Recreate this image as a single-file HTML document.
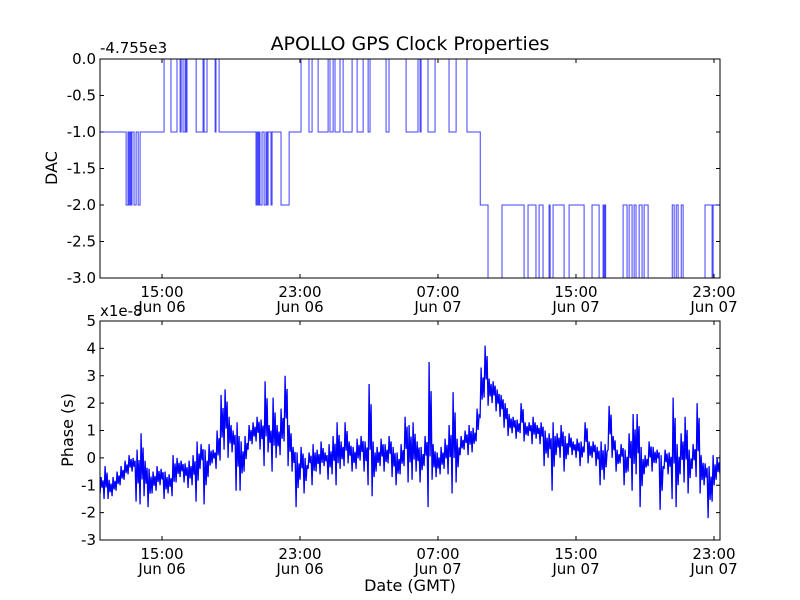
<!DOCTYPE html>
<html><head><meta charset="utf-8">
<style>
html,body{margin:0;padding:0;background:#fff;}
svg{display:block;font-family:"DejaVu Sans","Liberation Sans",sans-serif;}
</style></head>
<body>
<svg id="chart" width="800" height="600" viewBox="0 0 800 600" xmlns="http://www.w3.org/2000/svg">
<rect width="800" height="600" fill="#fff"/>
<text x="410" y="50" font-size="19" text-anchor="middle">APOLLO GPS Clock Properties</text>
<g id="top"></g>
<g id="bot"></g>
</svg>
<script>
// ---- data ----
const xTickHours = [15, 23, 31, 39, 47];
const xTickTimes = ["15:00", "23:00", "07:00", "15:00", "23:00"];
const xTickDates = ["Jun 06", "Jun 06", "Jun 07", "Jun 07", "Jun 07"];
const dacTicks = [0.0, -0.5, -1.0, -1.5, -2.0, -2.5, -3.0];
const dacTickLabels = ["0.0", "-0.5", "-1.0", "-1.5", "-2.0", "-2.5", "-3.0"];
const phaseTicks = [5, 4, 3, 2, 1, 0, -1, -2, -3];
const phaseTickLabels = ["5", "4", "3", "2", "1", "0", "-1", "-2", "-3"];
// DAC step data (hours since Jun 06 00:00, value offset from -4755e3)
const dacTimes = [11.41,12.92,13.03,13.09,13.15,13.21,13.26,13.38,13.50,13.62,13.73,
15.12,15.52,15.87,16.05,16.11,16.22,16.34,16.40,16.45,16.98,17.38,17.44,17.61,18.08,18.13,18.31,
20.45,20.51,20.57,20.63,20.68,20.80,20.92,21.03,21.09,21.15,21.32,21.38,21.90,22.37,
23.06,23.52,23.70,24.05,24.63,24.74,24.92,25.03,25.32,25.50,26.02,26.31,26.66,26.95,27.06,27.99,28.16,29.15,
29.84,29.96,30.02,30.42,30.83,31.64,32.05,32.68,33.45,33.90,34.71,35.99,36.22,36.68,36.86,37.09,37.44,37.50,37.67,38.31,38.60,39.47,39.93,40.34,40.57,40.62,40.68,40.72,
41.73,41.96,42.08,42.25,42.37,42.48,42.66,42.83,42.95,43.18,44.58,44.69,44.81,44.92,45.10,45.21,46.48,46.89,46.95,47.35];
const dacValues = [-1,-2,-1,-2,-1,-2,-1,-2,-1,-2,-1,
0,-1,0,-1,0,-1,0,-1,0,-1,0,-1,0,-1,0,-1,
-2,-1,-2,-1,-2,-1,-2,-1,-2,-1,-2,-1,-2,-1,
0,-1,0,-1,0,-1,0,-1,0,-1,0,-1,0,-1,0,-1,0,-1,
0,-1,0,-1,0,-1,0,-1,-2,-3,-2,-3,-2,-3,-2,-3,-2,-3,-2,-3,-2,-3,-2,-3,-2,-3,-2,-3,
-2,-3,-2,-3,-2,-3,-2,-3,-2,-3,-2,-3,-2,-3,-2,-3,-2,-3,-2,-2];
// Phase envelope (x1e-8 s), per bin starting at phaseStart, bin width phaseStep hours
const phaseStart = 11.41;
const phaseStep = 0.2319;
const phaseLo = [-1.3,-1.5,-1.5,-1.4,-1.2,-1.0,-0.8,-0.6,-0.5,-1.6,-1.7,-1.4,-1.8,-1.3,-1.2,-1.0,-1.5,-1.3,-1.4,-0.9,
-0.7,-0.9,-1.1,-1.0,-1.6,-0.4,-1.7,-0.7,-0.2,-0.4,-0.1,0.3,0.0,0.2,-1.2,-1.2,-0.5,0.3,0.5,0.6,
0.3,-0.3,0.2,-0.5,0.0,0.1,0.6,-0.3,-0.5,-1.8,-0.8,-1.3,-0.4,-1.0,-0.5,-0.6,-0.3,-0.8,-0.6,-1.0,
-0.4,-0.3,-0.2,-0.5,-0.4,-0.1,-0.5,-1.0,-1.4,-0.5,-0.3,-0.5,-0.2,-0.7,-1.0,-0.6,-0.3,-0.9,-0.8,-0.5,
-0.9,-0.3,-1.8,-0.8,-0.7,-0.6,-0.4,-0.6,-1.3,-0.9,0.1,0.3,0.1,0.2,0.6,1.5,2.2,1.9,2.0,1.7,
1.5,1.1,0.8,0.9,0.7,0.9,0.6,0.8,0.5,0.7,0.5,-0.3,0.0,-1.2,0.1,0.0,-0.5,0.1,0.1,0.0,
-0.3,0.2,-0.2,0.0,-0.3,-1.0,-0.8,0.3,0.0,-0.5,-0.2,-1.0,-0.5,-1.2,-0.6,-1.8,-0.6,-0.3,-0.5,-0.2,
-1.9,-0.4,-0.6,-1.5,-1.8,-0.6,-0.9,-1.3,-0.4,-0.7,-1.3,-1.0,-2.2,-1.6,-0.8,-0.6];
const phaseHi = [-0.7,-0.3,-0.8,-0.7,-0.5,-0.3,-0.1,0.1,0.0,0.3,0.9,-0.1,-0.4,-0.5,-0.3,-0.4,-0.5,-0.6,0.1,0.0,
-0.1,-0.2,-0.1,0.1,0.6,0.5,0.3,0.5,0.3,1.0,2.3,2.5,1.5,1.0,1.3,0.6,0.8,1.2,1.3,1.5,
1.4,2.8,1.2,2.2,1.2,1.8,3.0,1.2,0.4,0.2,0.4,0.0,0.2,0.5,0.3,0.6,0.2,0.5,0.8,1.3,
0.6,1.3,0.6,0.4,0.7,0.8,0.6,2.7,0.6,0.4,0.7,0.5,0.8,0.4,0.2,0.5,1.5,1.2,1.3,0.6,
0.4,0.8,3.5,0.5,0.2,0.4,0.7,1.2,2.4,0.7,0.8,1.0,1.2,1.1,1.8,3.3,4.1,2.9,2.8,2.5,
2.3,2.0,1.6,1.5,1.4,2.0,1.3,1.3,1.5,1.2,1.3,1.0,0.9,1.3,0.9,1.2,0.8,0.9,0.6,0.7,
0.6,1.3,0.6,0.6,0.4,0.6,0.5,1.9,0.8,0.3,0.5,0.3,0.9,1.6,1.6,0.4,0.1,0.6,0.4,0.3,
0.1,0.3,0.2,2.2,0.5,0.9,1.5,0.3,0.5,2.0,0.1,-0.2,-0.3,0.1,0.0,0.1];

// ---- layout ----
const NS = "http://www.w3.org/2000/svg";
const X0 = 100, X1 = 720, H0 = 11.406, H1 = 47.348;
const xs = h => X0 + (h - H0) / (H1 - H0) * (X1 - X0);
function mk(tag, attrs, parent, text) {
  const e = document.createElementNS(NS, tag);
  for (const k in attrs) e.setAttribute(k, attrs[k]);
  if (text !== undefined) e.textContent = text;
  parent.appendChild(e);
  return e;
}
function axes(g, top, bottom, vmax, vmin, ticks, labels) {
  const ys = v => top + (vmax - v) / (vmax - vmin) * (bottom - top);
  ticks.forEach((t, i) => {
    const y = ys(t);
    const tl = mk("path", {d: `M${X0},${y}h4M${X1},${y}h-4`, stroke: "#000", "stroke-width": 1}, g);
    
    
    const lb = mk("text", {x: X0 - 4, y: y + 5, "font-size": 15, "text-anchor": "end"}, g, labels[i]);
    
    
  });
  xTickHours.forEach((h, i) => {
    const x = xs(h);
    const tk = mk("path", {d: `M${x},${bottom}v-4M${x},${top}v4`, stroke: "#000", "stroke-width": 1}, g);
    
    
    const l1 = mk("text", {x: x, y: bottom + 19, "font-size": 15, "text-anchor": "middle"}, g, xTickTimes[i]);
    
    
    const l2 = mk("text", {x: x, y: bottom + 34, "font-size": 15, "text-anchor": "middle"}, g, xTickDates[i]);
    
    
  });
  return ys;
}
// top panel
const gt = document.getElementById("top");
const T0 = 59, T1 = 278;
const ysT = axes(gt, T0, T1, 0, -3, dacTicks, dacTickLabels);
let d = "";
dacTimes.forEach((t, i) => {
  const x = Math.max(X0, Math.min(X1, xs(t)));
  const y = ysT(dacValues[i]);
  if (i === 0) d += `M${x},${y}`;
  else d += `H${x}V${y}`;
});
const clipT = mk("clipPath", {id: "ct"}, gt);
mk("rect", {x: X0, y: T0 - 1, width: X1 - X0, height: T1 - T0 + 2}, clipT);
const dac = mk("path", {d: d, fill: "none", stroke: "#0000ff", "stroke-width": 1, "stroke-opacity": 0.75, "clip-path": "url(#ct)"}, gt);


const fr1 = mk("rect", {x: X0, y: T0, width: X1 - X0, height: T1 - T0, fill: "none", stroke: "#000", "stroke-width": 1}, gt);


const off = mk("text", {x: 100, y: 53, "font-size": 15}, gt, "-4.755e3");


const yl1 = mk("text", {x: 0, y: 0, "font-size": 16, "text-anchor": "middle", transform: "translate(57,168) rotate(-90)"}, gt, "DAC");



// bottom panel
const gb = document.getElementById("bot");
const B0 = 321, B1 = 540;
const ysB = axes(gb, B0, B1, 5, -3, phaseTicks, phaseTickLabels);
let pd = "";
phaseLo.forEach((lo, i) => {
  const hi = phaseHi[i];
  const t = phaseStart + i * phaseStep;
  const w = xs(t + phaseStep) - xs(t);
  const xa = xs(t);
  const pts = [[0, lo], [0.25, hi], [0.5, lo + 0.35 * (hi - lo)], [0.75, lo + 0.8 * (hi - lo)]];
  pts.forEach((p, j) => {
    const x = Math.min(X1, xa + p[0] * w);
    pd += ((i === 0 && j === 0) ? "M" : "L") + x.toFixed(2) + "," + ysB(p[1]).toFixed(2);
  });
});
const clipB = mk("clipPath", {id: "cb"}, gb);
mk("rect", {x: X0, y: B0, width: X1 - X0, height: B1 - B0}, clipB);
const ph = mk("path", {d: pd, fill: "none", stroke: "#0000ff", "stroke-width": 1.3, "clip-path": "url(#cb)"}, gb);


const fr2 = mk("rect", {x: X0, y: B0, width: X1 - X0, height: B1 - B0, fill: "none", stroke: "#000", "stroke-width": 1}, gb);


const sc = mk("text", {x: 100, y: 316, "font-size": 15}, gb, "x1e-8");


const yl2 = mk("text", {x: 0, y: 0, "font-size": 16, "text-anchor": "middle", transform: "translate(73,430) rotate(-90)"}, gb, "Phase (s)");


const xl = mk("text", {x: 410, y: 591, "font-size": 16, "text-anchor": "middle"}, gb, "Date (GMT)");


</script>
</body></html>
